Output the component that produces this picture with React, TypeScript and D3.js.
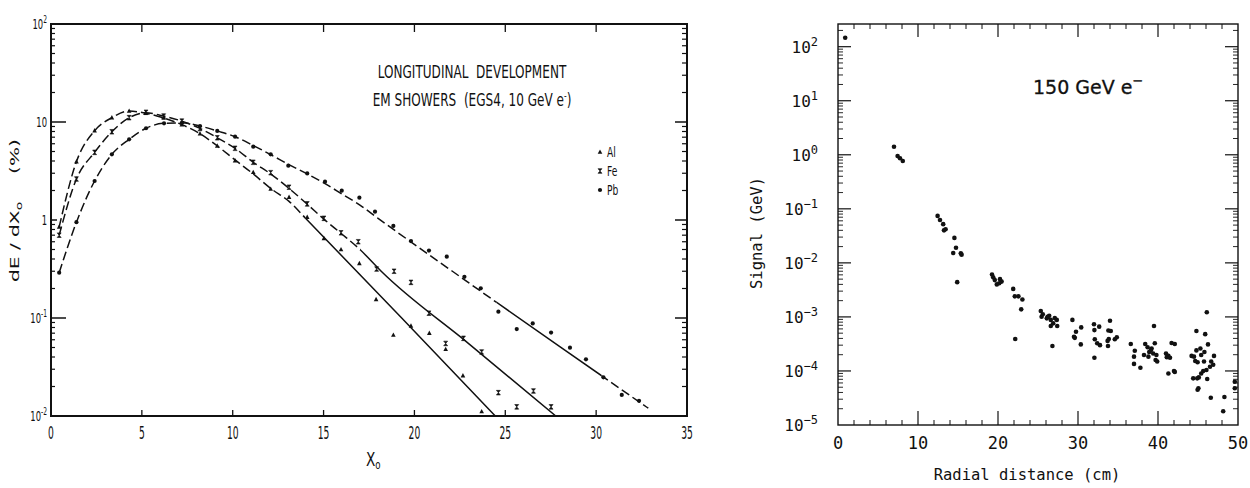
import React from "react";
import * as d3 from "d3";

type Pt = [number, number];

// ---------- Longitudinal development (depth in X0, dE/dX0 in %) ----------
const alPoints: Pt[] = [
  [0.45, 0.85], [1.4, 3.94], [2.4, 8.15], [3.35, 11.07], [4.3, 12.95], [5.2, 12.3],
  [6.2, 11.0], [7.2, 9.4], [8.2, 7.6], [9.15, 5.7], [10.13, 4.03], [11.13, 3.07],
  [12.09, 2.07], [13.1, 1.71], [14.1, 1.07], [15.02, 0.65], [15.96, 0.5], [16.97, 0.361],
  [17.89, 0.155], [18.84, 0.067], [19.81, 0.083], [20.82, 0.07], [21.72, 0.048],
  [22.67, 0.0258], [23.7, 0.0111],
];
const fePoints: Pt[] = [
  [0.45, 0.7], [1.4, 2.62], [2.4, 4.9], [3.35, 7.95], [4.3, 11.07], [5.23, 12.56],
  [6.2, 11.5], [7.2, 10.2], [8.2, 8.6], [9.15, 6.9], [10.13, 5.39], [11.13, 3.88],
  [12.09, 3.04], [13.1, 2.16], [14.1, 1.46], [15.02, 1.04], [15.96, 0.74], [16.91, 0.6],
  [17.92, 0.316], [18.88, 0.3], [19.81, 0.231], [20.8, 0.112], [21.72, 0.055], [22.7, 0.062],
  [23.7, 0.045], [24.62, 0.0173], [25.63, 0.0124], [26.55, 0.018], [27.52, 0.0124],
];
const pbPoints: Pt[] = [
  [0.45, 0.29], [1.4, 0.95], [2.4, 2.5], [3.35, 4.68], [4.3, 6.65], [5.23, 8.63],
  [6.22, 9.7], [7.2, 9.8], [8.2, 9.1], [9.15, 8.1], [10.13, 7.08], [11.13, 5.6],
  [12.09, 4.68], [13.06, 3.58], [14.1, 2.99], [15.08, 2.46], [16.0, 1.99], [16.97, 1.69],
  [17.83, 1.215], [18.84, 0.87], [19.81, 0.61], [20.8, 0.487], [21.78, 0.422], [22.75, 0.263],
  [23.65, 0.201], [24.62, 0.116], [25.63, 0.077], [26.51, 0.088], [27.52, 0.071],
  [28.56, 0.0498], [29.44, 0.0379], [30.4, 0.0248], [31.41, 0.0164], [32.36, 0.0143],
];

// fitted shower profiles
const alFit: Pt[] = [
  [0.45, 0.85], [1.4, 3.94], [2.4, 8.15], [3.35, 11.07], [4.3, 12.95], [5.2, 12.3],
  [6.2, 11.0], [7.2, 9.4], [8.2, 7.6], [9.15, 5.7], [10.13, 4.1], [11.13, 2.95],
  [12.09, 2.1], [13.1, 1.55], [14.1, 1.0], [19.3, 0.1], [24.45, 0.01],
];
const feFit: Pt[] = [
  [0.45, 0.7], [1.4, 2.62], [2.4, 4.9], [3.35, 7.95], [4.3, 11.07], [5.23, 12.4],
  [6.2, 11.5], [7.2, 10.2], [8.2, 8.6], [9.15, 6.9], [10.13, 5.39], [11.13, 3.88],
  [12.09, 2.95], [13.1, 2.1], [14.1, 1.45], [15.02, 1.02], [16, 0.72], [17, 0.5],
  [18.2, 0.296], [23, 0.0545], [27.78, 0.01],
];
const pbFit: Pt[] = [
  [0.45, 0.29], [1.4, 0.95], [2.4, 2.5], [3.35, 4.68], [4.3, 6.65], [5.23, 8.63],
  [6.22, 9.7], [7.2, 9.8], [8.2, 9.1], [9.15, 8.1], [10.13, 7.08], [11.13, 5.75],
  [12.09, 4.65], [13.06, 3.7], [14.1, 2.95], [15.08, 2.35], [16, 1.85], [17, 1.42],
  [18, 1.04], [23, 0.228], [28, 0.051], [32.87, 0.012],
];

// depth ranges drawn dashed / solid for each profile
const alBands = [{ from: 0, to: 14, dash: "9 4" }, { from: 14, to: 35, dash: "" }];
const feBands = [{ from: 0, to: 17, dash: "9 4" }, { from: 17, to: 35, dash: "" }];
const pbBands = [
  { from: 0, to: 24.5, dash: "9 4" },
  { from: 24.5, to: 30.3, dash: "" },
  { from: 30.3, to: 35, dash: "9 4" },
];

const leftXTicks = [0, 5, 10, 15, 20, 25, 30, 35];
const leftYTicks: { v: number; base: string; exp: string }[] = [
  { v: 0.01, base: "10", exp: "-2" },
  { v: 0.1, base: "10", exp: "-1" },
  { v: 1, base: "1", exp: "" },
  { v: 10, base: "10", exp: "" },
  { v: 100, base: "10", exp: "2" },
];
const legendItems = ["Al", "Fe", "Pb"];

// ---------- Lateral profile, 150 GeV electrons ----------
const radialSignal: Pt[] = [
  [0.9, 146],
  [7.0, 1.41], [7.45, 0.95], [7.75, 0.86], [8.1, 0.765],
  [12.45, 0.074], [12.75, 0.062], [13.15, 0.052], [13.45, 0.042], [13.25, 0.04],
  [14.55, 0.029], [14.75, 0.019], [14.4, 0.0152], [15.35, 0.015], [15.45, 0.0142], [14.9, 0.0044],
  [19.25, 0.0061], [19.4, 0.0054], [19.6, 0.0048], [19.85, 0.004], [20.25, 0.005],
  [20.45, 0.0045], [20.15, 0.0042],
  [21.9, 0.0033], [22.1, 0.0024], [22.55, 0.0024], [23.05, 0.0021], [22.9, 0.00138], [22.15, 0.00039],
  [25.35, 0.00129], [25.45, 0.00101], [25.6, 0.00112], [26.1, 0.00094], [26.4, 0.00105],
  [26.6, 0.00088], [26.9, 0.00076], [26.6, 0.00068], [27.35, 0.00088], [27.4, 0.00068],
  [26.8, 0.00029], [26.2, 0.001], [27.1, 0.00095],
  [29.3, 0.00088], [30.4, 0.00064], [29.75, 0.00053], [29.5, 0.00043], [29.6, 0.00041], [30.35, 0.00031],
  [32.0, 0.00073], [32.65, 0.00066], [32.05, 0.00057], [34.0, 0.00085], [33.8, 0.00056],
  [34.1, 0.00055], [32.1, 0.000385], [32.4, 0.000325], [32.75, 0.0003], [33.7, 0.00036],
  [33.75, 0.00029], [34.6, 0.000385], [34.85, 0.00042], [32.05, 0.000176], [33.85, 0.00039],
  [36.6, 0.000315], [37.1, 0.000237], [37.0, 0.000184], [37.0, 0.000135], [37.8, 0.000115],
  [38.4, 0.000315], [39.5, 0.00068], [38.7, 0.000274], [39.2, 0.00026], [39.6, 0.000325],
  [38.25, 0.000197], [38.8, 0.000184], [38.9, 0.000224], [39.4, 0.00021], [39.8, 0.000197],
  [39.7, 0.00016], [39.9, 0.00015], [41.0, 0.00021], [41.3, 0.00019], [41.1, 0.00018],
  [41.7, 0.00033], [42.1, 0.000315], [41.3, 0.00009], [42.0, 0.0001], [42.1, 0.000096],
  [39.1, 0.00024], [41.5, 0.000175],
  [46.1, 0.00122], [44.8, 0.00055], [45.9, 0.00048], [46.25, 0.00031], [45.3, 0.00026],
  [44.8, 0.00024], [44.2, 0.00019], [44.5, 0.000184], [44.65, 0.000153], [44.95, 0.000145],
  [45.4, 0.000197], [45.8, 0.000224], [45.75, 0.00015], [46.65, 0.00015], [47.0, 0.00019],
  [46.9, 0.00013], [46.5, 0.00012], [46.05, 0.000104], [45.65, 0.0001], [45.4, 0.00009],
  [45.1, 0.000076], [44.9, 0.000073], [44.4, 0.000073], [46.15, 0.000071], [45.05, 0.000048],
  [44.95, 0.000045], [46.6, 0.000032], [48.3, 0.000033], [48.15, 0.000018],
  [49.6, 0.000063], [49.6, 0.000048],
];
const rightXTicks = [0, 10, 20, 30, 40, 50];
const rightYExponents = [-5, -4, -3, -2, -1, 0, 1, 2];
const RIGHT_Y_MAX = 263;

// ---------- layout ----------
const L = { l: 51, r: 687, t: 24, b: 416 };
const R = { l: 838, r: 1238, t: 24, b: 425 };

const lx = d3.scaleLinear().domain([0, 35]).range([L.l, L.r]);
const ly = d3.scaleLog().domain([0.01, 100]).range([L.b, L.t]);
const rx = d3.scaleLinear().domain([0, 50]).range([R.l, R.r]);
const ry = d3.scaleLog().domain([1e-5, RIGHT_Y_MAX]).range([R.b, R.t]);

const SANS = "'DejaVu Sans', sans-serif";
const MONO = "'DejaVu Sans Mono', monospace";
const INK = "#111";

// narrow plotter-style lettering
function NText(props: {
  x: number; y: number; size: number; sx: number; anchor?: string; rotate?: number;
  children: React.ReactNode;
}) {
  const { x, y, size, sx, anchor = "start", rotate = 0, children } = props;
  return (
    <text
      transform={`translate(${x},${y}) rotate(${rotate}) scale(${sx},1)`}
      fontFamily={SANS}
      fontSize={size}
      textAnchor={anchor}
      fill={INK}
    >
      {children}
    </text>
  );
}

function minorLogValues(lo: number, hi: number) {
  const out: number[] = [];
  for (let e = lo; e < hi; e++) for (let m = 2; m <= 9; m++) out.push(m * Math.pow(10, e));
  return out;
}

function Marker({ kind, x, y }: { kind: string; x: number; y: number }) {
  if (kind === "Al")
    return <path d={`M${x},${y - 2.6}L${x + 2.3},${y + 1.8}L${x - 2.3},${y + 1.8}Z`} fill={INK} />;
  if (kind === "Fe")
    return (
      <path
        d={`M${x - 2},${y - 2.3}L${x + 2},${y - 2.3}L${x - 2},${y + 2.3}L${x + 2},${y + 2.3}Z`}
        fill={INK}
        stroke={INK}
        strokeWidth={0.6}
      />
    );
  return <circle cx={x} cy={y} r={2.1} fill={INK} />;
}

const lineGen = d3
  .line<Pt>()
  .x((d) => lx(d[0]))
  .y((d) => ly(d[1]))
  .curve(d3.curveMonotoneX);

function LeftChart() {
  const series = [
    { key: "Al", pts: alPoints, fit: alFit, bands: alBands },
    { key: "Fe", pts: fePoints, fit: feFit, bands: feBands },
    { key: "Pb", pts: pbPoints, fit: pbFit, bands: pbBands },
  ];
  const minors = minorLogValues(-2, 2);
  const topTicks = [5, 10, 15, 20, 25, 30];
  return (
    <g>
      <defs>
        {series.map((s) =>
          s.bands.map((b, i) => (
            <clipPath id={`clip-${s.key}-${i}`} key={`${s.key}-${i}`}>
              <rect x={lx(b.from)} y={L.t} width={lx(b.to) - lx(b.from)} height={L.b - L.t} />
            </clipPath>
          ))
        )}
      </defs>

      {/* fitted profiles */}
      {series.map((s) =>
        s.bands.map((b, i) => (
          <path
            key={`${s.key}-line-${i}`}
            d={lineGen(s.fit) || ""}
            fill="none"
            stroke={INK}
            strokeWidth={1.5}
            strokeDasharray={b.dash || undefined}
            clipPath={`url(#clip-${s.key}-${i})`}
          />
        ))
      )}

      {/* simulated points */}
      {series.map((s) =>
        s.pts.map((p, i) => <Marker key={`${s.key}-p-${i}`} kind={s.key} x={lx(p[0])} y={ly(p[1])} />)
      )}

      {/* frame */}
      <rect x={L.l} y={L.t} width={L.r - L.l} height={L.b - L.t} fill="none" stroke={INK} strokeWidth={2} />

      {/* x ticks */}
      {topTicks.map((t) => (
        <g key={`lxt-${t}`}>
          <line x1={lx(t)} x2={lx(t)} y1={L.t} y2={L.t + 8} stroke={INK} strokeWidth={1.3} />
          <line x1={lx(t)} x2={lx(t)} y1={L.b} y2={L.b - 6} stroke={INK} strokeWidth={1.3} />
        </g>
      ))}
      {leftXTicks.map((t) => (
        <NText key={`lxl-${t}`} x={lx(t)} y={439} size={17} sx={0.54} anchor="middle">
          {t}
        </NText>
      ))}

      {/* y ticks */}
      {minors.map((v, i) => (
        <g key={`lym-${i}`}>
          <line x1={L.l} x2={L.l + 4} y1={ly(v)} y2={ly(v)} stroke={INK} strokeWidth={1.2} />
          <line x1={L.r} x2={L.r - 5} y1={ly(v)} y2={ly(v)} stroke={INK} strokeWidth={1.2} />
        </g>
      ))}
      {[0.1, 1, 10].map((v) => (
        <g key={`lyM-${v}`}>
          <line x1={L.l} x2={L.l + (v === 1 ? 6 : 15)} y1={ly(v)} y2={ly(v)} stroke={INK} strokeWidth={1.5} />
          <line x1={L.r} x2={L.r - 12} y1={ly(v)} y2={ly(v)} stroke={INK} strokeWidth={1.5} />
        </g>
      ))}
      {leftYTicks.map((t) => (
        <NText key={`lyl-${t.v}`} x={47} y={ly(t.v) + 5} size={14} sx={0.6} anchor="end">
          {t.base}
          {t.exp && (
            <tspan fontSize={10} dy={-6}>
              {t.exp}
            </tspan>
          )}
        </NText>
      ))}

      {/* axis titles */}
      <NText x={366} y={466} size={19} sx={0.72}>
        X
        <tspan fontSize={12} dy={3}>
          o
        </tspan>
      </NText>
      <NText x={19} y={282} size={13} sx={1.55} rotate={-90}>
        dE / dX
        <tspan fontSize={9} dy={3}>
          o
        </tspan>
        <tspan dy={-3} dx={18}>
          (%)
        </tspan>
      </NText>

      {/* annotation */}
      <NText x={472} y={78} size={18} sx={0.67} anchor="middle">
        LONGITUDINAL{"\u00a0\u00a0"}DEVELOPMENT
      </NText>
      <NText x={472} y={106} size={18} sx={0.67} anchor="middle">
        EM SHOWERS{"\u00a0\u00a0"}(EGS4, 10 GeV e
        <tspan fontSize={11} dy={-7}>
          -
        </tspan>
        <tspan dy={7}>)</tspan>
      </NText>

      {/* legend */}
      {legendItems.map((k, i) => (
        <g key={`leg-${k}`}>
          <Marker kind={k} x={600} y={152 + i * 19} />
          <NText x={607} y={157 + i * 19} size={14} sx={0.65}>
            {k}
          </NText>
        </g>
      ))}
    </g>
  );
}

function RightChart() {
  const minorsY = minorLogValues(-5, 2).concat([2e2]).filter((v) => v < RIGHT_Y_MAX);
  const minorsX = d3.range(2, 50, 2).filter((v) => v % 10 !== 0);
  const majorsX = [10, 20, 30, 40];
  const majorsY = rightYExponents.map((e) => Math.pow(10, e)).filter((v) => v > 1e-5);
  return (
    <g>
      <rect x={R.l} y={R.t} width={R.r - R.l} height={R.b - R.t} fill="none" stroke={INK} strokeWidth={1.4} />

      {minorsX.map((v) => (
        <g key={`rxm-${v}`}>
          <line x1={rx(v)} x2={rx(v)} y1={R.b} y2={R.b - 5} stroke={INK} strokeWidth={1} />
          <line x1={rx(v)} x2={rx(v)} y1={R.t} y2={R.t + 5} stroke={INK} strokeWidth={1} />
        </g>
      ))}
      {majorsX.map((v) => (
        <g key={`rxM-${v}`}>
          <line x1={rx(v)} x2={rx(v)} y1={R.b} y2={R.b - 14} stroke={INK} strokeWidth={1.2} />
          <line x1={rx(v)} x2={rx(v)} y1={R.t} y2={R.t + 13} stroke={INK} strokeWidth={1.2} />
        </g>
      ))}
      {minorsY.map((v, i) => (
        <g key={`rym-${i}`}>
          <line x1={R.l} x2={R.l + 5} y1={ry(v)} y2={ry(v)} stroke={INK} strokeWidth={0.9} />
          <line x1={R.r} x2={R.r - 5} y1={ry(v)} y2={ry(v)} stroke={INK} strokeWidth={0.9} />
        </g>
      ))}
      {majorsY.map((v, i) => (
        <g key={`ryM-${i}`}>
          <line x1={R.l} x2={R.l + 13} y1={ry(v)} y2={ry(v)} stroke={INK} strokeWidth={1.2} />
          <line x1={R.r} x2={R.r - 13} y1={ry(v)} y2={ry(v)} stroke={INK} strokeWidth={1.2} />
        </g>
      ))}

      {rightXTicks.map((v) => (
        <text key={`rxl-${v}`} x={rx(v)} y={449} fontFamily={MONO} fontSize={17} textAnchor="middle" fill={INK}>
          {v}
        </text>
      ))}
      {rightYExponents.map((e) => (
        <text
          key={`ryl-${e}`}
          x={818}
          y={ry(Math.pow(10, e)) + 6}
          fontFamily={MONO}
          fontSize={16}
          textAnchor="end"
          fill={INK}
        >
          10
          <tspan fontSize={12} dy={-7}>
            {e < 0 ? `\u2212${-e}` : `${e}`}
          </tspan>
        </text>
      ))}

      {radialSignal.map((p, i) => (
        <circle key={`rs-${i}`} cx={rx(p[0])} cy={ry(p[1])} r={2.3} fill={INK} />
      ))}

      <text x={1027} y={480} fontFamily={MONO} fontSize={15.5} textAnchor="middle" fill={INK}>
        Radial distance (cm)
      </text>
      <text
        transform="translate(762,233) rotate(-90)"
        fontFamily={MONO}
        fontSize={15.5}
        textAnchor="middle"
        fill={INK}
      >
        Signal (GeV)
      </text>
      <text x={1033} y={94} fontFamily={SANS} fontSize={19} fill={INK} stroke={INK} strokeWidth={0.3}>
        150 GeV e
        <tspan fontSize={13} dy={-9}>
          {"\u2212"}
        </tspan>
      </text>
    </g>
  );
}

export default function App() {
  return (
    <svg
      width={1250}
      height={488}
      viewBox="0 0 1250 488"
      style={{ position: "absolute", left: 0, top: 0, background: "#fff" }}
    >
      <rect x={0} y={0} width={1250} height={488} fill="#fff" />
      <LeftChart />
      <RightChart />
    </svg>
  );
}
